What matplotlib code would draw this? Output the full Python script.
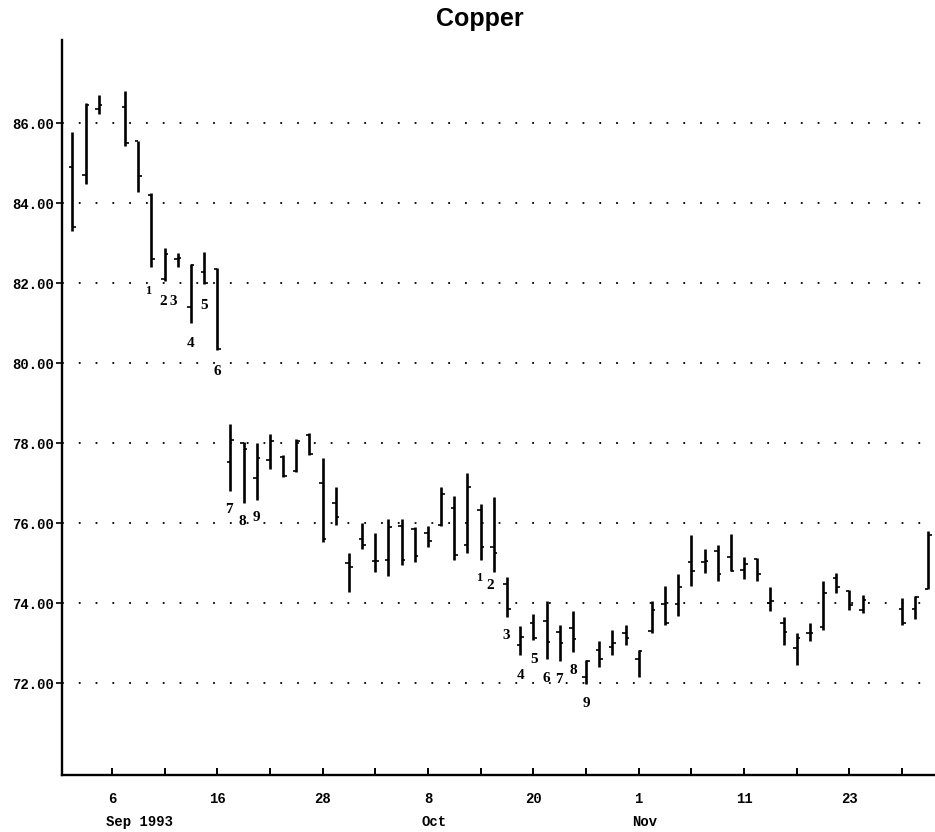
import numpy as np
import matplotlib
matplotlib.use("Agg")
import matplotlib.pyplot as plt

# ---------------- data ----------------
dates = ["1993-09-01", "1993-09-02", "1993-09-03", "1993-09-07", "1993-09-08",
         "1993-09-09", "1993-09-10", "1993-09-13", "1993-09-14", "1993-09-15",
         "1993-09-16", "1993-09-17", "1993-09-20", "1993-09-21", "1993-09-22",
         "1993-09-23", "1993-09-24", "1993-09-27", "1993-09-28", "1993-09-29",
         "1993-09-30", "1993-10-01", "1993-10-04", "1993-10-05", "1993-10-06",
         "1993-10-07", "1993-10-08", "1993-10-11", "1993-10-12", "1993-10-13",
         "1993-10-14", "1993-10-15", "1993-10-18", "1993-10-19", "1993-10-20",
         "1993-10-21", "1993-10-22", "1993-10-25", "1993-10-26", "1993-10-27",
         "1993-10-28", "1993-10-29", "1993-11-01", "1993-11-02", "1993-11-03",
         "1993-11-04", "1993-11-05", "1993-11-08", "1993-11-09", "1993-11-10",
         "1993-11-11", "1993-11-12", "1993-11-15", "1993-11-16", "1993-11-17",
         "1993-11-18", "1993-11-19", "1993-11-22", "1993-11-23", "1993-11-24",
         "1993-11-29", "1993-11-30", "1993-12-01"]

opens = [84.90, 84.70, 86.35, 86.40, 85.55, 84.20, 82.10, 82.60, 81.40, 82.28,
         82.35, 77.52, 78.00, 77.12, 77.58, 77.65, 77.30, 78.20, 77.00, 76.50,
         75.00, 75.60, 75.05, 75.08, 75.92, 75.85, 75.74, 75.95, 76.37, 75.45,
         76.33, 75.39, 74.47, 72.95, 73.49, 73.54, 73.28, 73.37, 72.16, 72.83,
         72.90, 73.25, 72.60, 73.30, 73.98, 73.98, 75.03, 75.03, 75.31, 75.16,
         74.83, 75.10, 74.00, 73.49, 72.87, 73.24, 73.41, 74.62, 74.30, 73.83,
         73.84, 73.85, 74.34]

highs = [85.78, 86.51, 86.70, 86.80, 85.56, 84.26, 82.88, 82.76, 82.49, 82.78,
         82.37, 78.48, 78.02, 77.99, 78.23, 77.70, 78.09, 78.26, 77.62, 76.89,
         75.24, 75.99, 75.74, 76.09, 76.09, 75.89, 75.92, 76.91, 76.68, 77.26,
         76.48, 76.66, 74.66, 73.43, 73.73, 74.06, 73.45, 73.81, 72.58, 73.06,
         73.33, 73.45, 72.83, 74.06, 74.43, 74.73, 75.70, 75.34, 75.45, 75.73,
         75.16, 75.12, 74.41, 73.66, 73.26, 73.51, 74.54, 74.76, 74.33, 74.20,
         74.12, 74.17, 75.81]

lows = [83.31, 84.49, 86.22, 85.43, 84.28, 82.41, 82.06, 82.41, 81.01, 81.98,
        80.33, 76.81, 76.49, 76.58, 77.34, 77.16, 77.28, 77.70, 75.53, 75.95,
        74.28, 75.34, 74.78, 74.67, 74.95, 75.03, 75.41, 75.92, 75.08, 75.26,
        75.08, 74.78, 73.66, 72.70, 73.08, 72.59, 72.56, 72.78, 71.98, 72.39,
        72.70, 72.95, 72.16, 73.24, 73.45, 73.68, 74.43, 74.76, 74.54, 74.79,
        74.59, 74.56, 73.81, 72.95, 72.45, 73.06, 73.33, 74.24, 73.83, 73.74,
        73.45, 73.59, 74.34]

closes = [83.40, 86.45, 86.45, 85.50, 84.68, 82.60, 82.74, 82.62, 82.45, 82.00,
          80.35, 78.08, 77.85, 77.62, 78.05, 77.18, 78.05, 77.72, 75.60, 76.15,
          74.90, 75.45, 75.05, 75.90, 75.08, 75.18, 75.54, 76.72, 75.20, 76.91,
          75.39, 75.26, 73.84, 73.14, 73.12, 73.03, 72.99, 73.09, 72.55, 72.60,
          73.00, 73.12, 72.80, 73.83, 73.49, 74.41, 74.79, 75.05, 74.73, 74.80,
          74.98, 74.73, 74.06, 73.28, 73.12, 73.25, 74.24, 74.41, 73.95, 74.07,
          73.50, 74.15, 75.70]

y_ticks = [72, 74, 76, 78, 80, 82, 84, 86]

day_tick_dates = ["1993-09-06", "1993-09-16", "1993-09-28", "1993-10-08",
                  "1993-10-20", "1993-11-01", "1993-11-11", "1993-11-23"]
day_tick_labels = ["6", "16", "28", "8", "20", "1", "11", "23"]

month_labels = ["Sep 1993", "Oct", "Nov"]
month_dates = ["1993-09-06", "1993-10-08", "1993-11-01"]

# wave-count annotations: label, x (weekday slot), y (price)
count_labels = ["1", "2", "3", "4", "5", "6", "7", "8", "9",
                "1", "2", "3", "4", "5", "6", "7", "8", "9"]
count_x = [5.76, 6.90, 7.66, 8.98, 9.99, 11.0, 11.91, 12.93, 13.99,
           30.9, 31.76, 32.92, 34.04, 35.05, 35.96, 36.97, 38.03, 39.0]
count_y = [81.81, 81.53, 81.53, 80.49, 81.43, 79.80, 76.34, 76.03, 76.14,
           74.62, 74.43, 73.18, 72.18, 72.59, 72.12, 72.08, 72.31, 71.48]

# ---------------- plotting ----------------
START = "1993-09-01"


def slot(d):
    return int(np.busday_count(START, d))


x = np.array([slot(d) for d in dates], dtype=float)
o = np.array(opens)
h = np.array(highs)
l = np.array(lows)
c = np.array(closes)

W, H = 935, 832
fig = plt.figure(figsize=(W / 100, H / 100), dpi=100)
ax = fig.add_axes([62 / W, 1 - 775 / H, (W - 62) / W, (775 - 40) / H])
ax.set_xlim(-0.79, 65.5)
ax.set_ylim(69.7, 88.08)

ax.vlines(x, l, h, color="black", lw=1.9)
ax.hlines(o, x - 0.27, x, color="black", lw=1.2)
ax.hlines(c, x, x + 0.27, color="black", lw=1.2)

for s in ["top", "right"]:
    ax.spines[s].set_visible(False)
for s in ["left", "bottom"]:
    ax.spines[s].set_linewidth(1.7)

mono = "Liberation Mono"
ax.set_yticks(y_ticks)
ax.set_yticklabels([f"{v:.2f}" for v in y_ticks], family=mono, fontsize=10,
                   fontweight="bold")
ax.tick_params(axis="y", direction="out", length=4, width=1.2, pad=2)
ax.grid(axis="y", linestyle=(0, (1, 8.3)), lw=1.3, color="black")

major_x = [slot(d) for d in day_tick_dates]
minor_x = [p for p in range(3, 64, 4) if p not in major_x]
ax.set_xticks(major_x)
ax.set_xticklabels(day_tick_labels, family=mono, fontsize=10, fontweight="bold")
ax.set_xticks(minor_x, minor=True)
ax.tick_params(axis="x", which="both", direction="in", length=5, width=1.4, pad=12)

for lab, d in zip(month_labels, month_dates):
    ax.annotate(lab, xy=(slot(d), 0), xycoords=("data", "axes fraction"),
                xytext=(-4.5, -34), textcoords="offset points",
                ha="left", va="center", family=mono, fontsize=10,
                fontweight="bold")

for lab, cx, cy in zip(count_labels, count_x, count_y):
    size = 9 if lab == "1" else 11
    ax.text(cx, cy, lab, ha="center", va="center", family="Liberation Serif",
            fontweight="bold", fontsize=size)

fig.text(480 / W, 1 - 19 / H, "Copper", ha="center", va="center",
         family="Liberation Sans", fontweight="bold", fontsize=18)

fig.savefig("out.png", dpi=100)
